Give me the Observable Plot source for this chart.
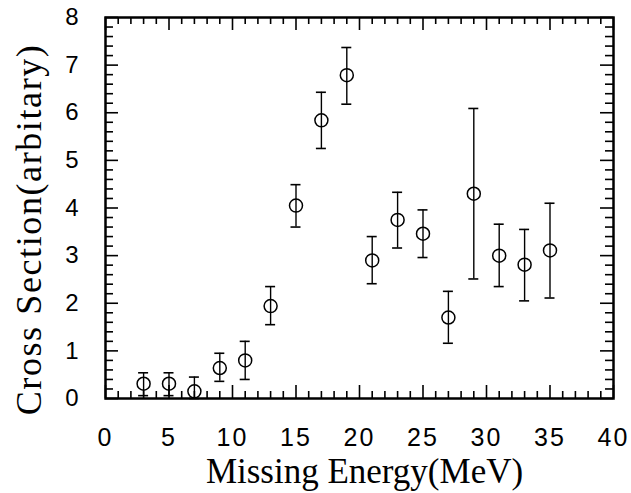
<!DOCTYPE html>
<html>
<head>
<meta charset="utf-8">
<script src="https://cdn.jsdelivr.net/npm/d3@7"></script>
<script src="https://cdn.jsdelivr.net/npm/@observablehq/plot@0.6"></script>
<style>
  html, body { margin: 0; padding: 0; background: #fff; }
  #chart svg { display: block; }
</style>
</head>
<body>
<div id="chart"></div>
<script>
// Missing-energy spectrum: cross section (arbitrary units) with error bars
const energy = [3, 5, 7, 9, 11, 13, 15, 17, 19, 21, 23, 25, 27, 29, 31, 33, 35];
const crossSection = [0.31, 0.31, 0.15, 0.64, 0.80, 1.94, 4.05, 5.84, 6.79, 2.90, 3.75, 3.46, 1.70, 4.30, 3.00, 2.81, 3.11];
const errLow = [0.06, 0.06, 0.00, 0.36, 0.40, 1.55, 3.60, 5.25, 6.18, 2.41, 3.16, 2.96, 1.16, 2.51, 2.35, 2.05, 2.11];
const errHigh = [0.54, 0.54, 0.45, 0.95, 1.20, 2.35, 4.49, 6.43, 7.37, 3.40, 4.33, 3.96, 2.25, 6.09, 3.66, 3.55, 4.10];

const xTickLabels = [0, 5, 10, 15, 20, 25, 30, 35, 40];
const yTickLabels = [0, 1, 2, 3, 4, 5, 6, 7, 8];
const xTitle = "Missing Energy(MeV)";
const yTitle = "Cross Section(arbitary)";

const points = energy.map((e, i) => ({e, v: crossSection[i], lo: errLow[i], hi: errHigh[i]}));

// layout
const W = 631, H = 493, ML = 105, MR = 18, MT = 17, MB = 95;
const X_MAX = 40, Y_MAX = 8;
const pxPerX = (W - ML - MR) / X_MAX;
const pxPerY = (H - MT - MB) / Y_MAX;

// tick lengths (pixels) expressed in data units along the perpendicular axis
const MAJOR = 13, MINOR_X = 7, MINOR_Y = 8;
const xMinorValues = d3.range(0, 41, 1).filter(d => d % 5 !== 0);
const yMinorValues = d3.range(1, 40).map(d => d / 5).filter(d => Math.abs(d - Math.round(d)) > 1e-9);

const span = (values, a, b) => values.map(v => ({v, a, b}));
const tickStyle = {stroke: "#000", strokeWidth: 1.6};
const ticksBottom = (values, len) => Plot.ruleX(span(values, 0, len / pxPerY), {x: "v", y1: "a", y2: "b", ...tickStyle});
const ticksTop = (values, len) => Plot.ruleX(span(values, Y_MAX - len / pxPerY, Y_MAX), {x: "v", y1: "a", y2: "b", ...tickStyle});
const ticksLeft = (values, len) => Plot.ruleY(span(values, 0, len / pxPerX), {y: "v", x1: "a", x2: "b", ...tickStyle});
const ticksRight = (values, len) => Plot.ruleY(span(values, X_MAX - len / pxPerX, X_MAX), {y: "v", x1: "a", x2: "b", ...tickStyle});

const sans = "'Liberation Sans', Arial, Helvetica, sans-serif";
const serif = "'Liberation Serif', 'Times New Roman', Times, serif";

const chart = Plot.plot({
  width: W,
  height: H,
  marginLeft: ML,
  marginRight: MR,
  marginTop: MT,
  marginBottom: MB,
  style: {background: "#fff", color: "#000"},
  x: {domain: [0, X_MAX], axis: null},
  y: {domain: [0, Y_MAX], axis: null},
  marks: [
    Plot.frame({stroke: "#000", fill: "none", strokeWidth: 2.5}),
    // error bars with caps
    Plot.ruleX(points, {x: "e", y1: "lo", y2: "hi", stroke: "#000", strokeWidth: 1.4}),
    Plot.ruleY(points, {y: "hi", x1: "e", x2: "e", insetLeft: -5, insetRight: -5, stroke: "#000", strokeWidth: 1.6}),
    Plot.ruleY(points, {y: "lo", x1: "e", x2: "e", insetLeft: -5, insetRight: -5, stroke: "#000", strokeWidth: 1.6}),
    // data points
    Plot.dot(points, {x: "e", y: "v", r: 6.5, stroke: "#000", fill: "none", strokeWidth: 1.5}),
    // tick labels
    Plot.text(xTickLabels.map(v => ({v})), {
      x: "v", frameAnchor: "bottom", dy: 39, text: d => String(d.v),
      textAnchor: "middle", lineAnchor: "middle",
      fontSize: 25, fontFamily: sans, fill: "#000"
    }),
    Plot.text(yTickLabels.map(v => ({v})), {
      y: "v", frameAnchor: "left", dx: -27, text: d => String(d.v),
      textAnchor: "end", lineAnchor: "middle", fontSize: 24, fontFamily: sans, fill: "#000"
    }),
    // axis titles
    Plot.text([xTitle], {
      x: 20, frameAnchor: "bottom", dy: 73, dx: 5, text: d => d,
      textAnchor: "middle", lineAnchor: "middle",
      fontSize: 35, fontFamily: serif, fill: "#000"
    }),
    Plot.text([yTitle], {
      y: 3.55, frameAnchor: "left", dx: -76, rotate: -90, text: d => d,
      textAnchor: "middle", lineAnchor: "middle",
      fontSize: 36, fontFamily: serif, fill: "#000"
    }),
    // inward ticks on all four sides of the frame
    ticksBottom(xTickLabels, MAJOR),
    ticksBottom(xMinorValues, MINOR_X),
    ticksTop(xTickLabels, MAJOR),
    ticksTop(xMinorValues, MINOR_X),
    ticksLeft(yTickLabels, MAJOR),
    ticksLeft(yMinorValues, MINOR_Y),
    ticksRight(yTickLabels, MAJOR),
    ticksRight(yMinorValues, MINOR_Y)
  ]
});

// typographic spacing: wider digit spacing on the x tick labels, looser y title
const xLabelSet = new Set(xTickLabels.map(String));
d3.select(chart).selectAll("text").each(function() {
  const t = this.textContent;
  if (t === yTitle) this.setAttribute("letter-spacing", "1.6");
  else if (xLabelSet.has(t) && this.closest("g").getAttribute("text-anchor") !== "end") this.setAttribute("letter-spacing", "2");
});

document.getElementById("chart").appendChild(chart);
</script>
</body>
</html>
